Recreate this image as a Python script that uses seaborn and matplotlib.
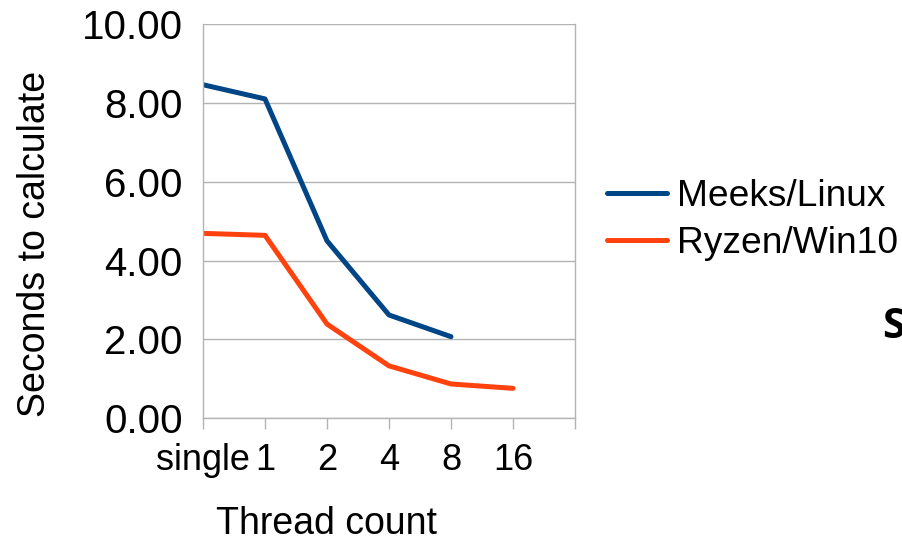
import matplotlib
matplotlib.use("Agg")
import matplotlib.pyplot as plt
import seaborn as sns
import pandas as pd
from matplotlib.lines import Line2D

categories = ["single", "1", "2", "4", "8", "16"]
meeks_linux = [8.46, 8.10, 4.50, 2.62, 2.07]
ryzen_win10 = [4.69, 4.64, 2.39, 1.33, 0.87, 0.76]
series_names = ["Meeks/Linux", "Ryzen/Win10"]
y_ticks = [0, 2, 4, 6, 8, 10]

rows = []
for i, v in enumerate(meeks_linux):
    rows.append({"pos": i, "sec": v, "series": series_names[0]})
for i, v in enumerate(ryzen_win10):
    rows.append({"pos": i, "sec": v, "series": series_names[1]})
df = pd.DataFrame(rows)

sns.set_theme(style="white")
plt.rcParams["font.family"] = ["Liberation Sans", "DejaVu Sans"]
plt.rcParams["text.color"] = "black"
plt.rcParams["axes.labelcolor"] = "black"
plt.rcParams["xtick.color"] = "black"
plt.rcParams["ytick.color"] = "black"

fig = plt.figure(figsize=(9.03, 5.43), dpi=100)
ax = fig.add_axes([203 / 903, 1 - 418.3 / 543, 372 / 903, 394.3 / 543])

sns.lineplot(data=df, x="pos", y="sec", hue="series",
             palette={"Meeks/Linux": "#004586", "Ryzen/Win10": "#ff420e"},
             linewidth=3.6, ax=ax, legend=False)

grid_c = "#b3b3b3"
ax.set_xlim(0, 6)
ax.set_ylim(0, 10)
ax.set_yticks(y_ticks)
ax.set_yticklabels([f"{t:.2f}" for t in y_ticks], fontsize=29)
ax.set_xticks(range(7))
ax.set_xticklabels(categories + [""], fontsize=26)
ax.yaxis.grid(True, color=grid_c, linewidth=1)
ax.xaxis.grid(False)
for s in ["left", "right", "bottom"]:
    ax.spines[s].set_color(grid_c)
    ax.spines[s].set_linewidth(1)
ax.spines["top"].set_visible(False)
ax.tick_params(axis="both", which="both", direction="out", color=grid_c,
               width=1, labelcolor="black")
ax.tick_params(axis="y", length=8.6, pad=6)
ax.tick_params(axis="x", length=8, bottom=True, pad=10)
ax.set_xlabel("Thread count", fontsize=27, color="black")
ax.set_ylabel("Seconds to calculate", fontsize=27, color="black")
ax.xaxis.set_label_coords(0.333, -0.222)
ax.yaxis.set_label_coords(-0.403, 0.442)

handles = [Line2D([], [], color="#004586", linewidth=3.6),
           Line2D([], [], color="#ff420e", linewidth=3.6)]
fig.legend(handles, series_names, loc="center left",
           bbox_to_anchor=(607 / 903, 1 - 220 / 543), frameon=False,
           fontsize=26.7, handlelength=1.62, handletextpad=0.28,
           labelspacing=0.32, borderaxespad=0, borderpad=0,
           labelcolor="black")

fig.text(882 / 903, 1 - 338 / 543, "S", fontsize=30, fontweight="bold",
         family=["Open Sans", "DejaVu Sans"], ha="left", va="baseline",
         color="black")

fig.savefig("out.png", dpi=100)
